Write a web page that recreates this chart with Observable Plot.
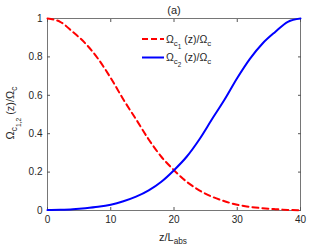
<!DOCTYPE html>
<html>
<head>
<meta charset="utf-8">
<script src="https://cdn.jsdelivr.net/npm/d3@7"></script>
<script src="https://cdn.jsdelivr.net/npm/@observablehq/plot@0.6"></script>
<style>
  html, body { margin: 0; padding: 0; background: #fff; }
  #chart { width: 332px; height: 249px; }
  svg { font-family: "Liberation Sans", Arial, sans-serif; }
</style>
</head>
<body>
<div id="chart"></div>
<script>
// ---- data ----
const zValues = [0, 2, 4, 6, 8, 10, 12, 14, 16, 18, 20, 22, 24, 26, 28, 30, 32, 34, 36, 38, 40];
const omegaC1 = [1.0, 0.983, 0.93, 0.87, 0.79, 0.69, 0.578, 0.475, 0.37, 0.28, 0.21, 0.15, 0.105, 0.072, 0.048, 0.03, 0.019, 0.012, 0.007, 0.003, 0.001];
const omegaC2 = [0.002, 0.004, 0.007, 0.012, 0.019, 0.03, 0.048, 0.072, 0.105, 0.15, 0.21, 0.28, 0.37, 0.475, 0.578, 0.69, 0.79, 0.87, 0.93, 0.983, 1.0];
const xTicks = [0, 10, 20, 30, 40];
const yTicks = [0, 0.2, 0.4, 0.6, 0.8, 1];
const yTickLabels = ["0", "0.2", "0.4", "0.6", "0.8", "1"];
const seriesColors = ["#ff0000", "#0000ff"];

const rows1 = zValues.map((z, i) => ({z, v: omegaC1[i]}));
const rows2 = zValues.map((z, i) => ({z, v: omegaC2[i]}));

const axisColor = "#262626";

const plot = Plot.plot({
  width: 332,
  height: 249,
  marginLeft: 47,
  marginRight: 32,
  marginTop: 18,
  marginBottom: 39,
  style: {fontFamily: "'Liberation Sans', Arial, sans-serif", fontSize: "10px", color: axisColor, background: "#fff"},
  x: {domain: [0, 40]},
  y: {domain: [0, 1]},
  marks: [
    Plot.frame({stroke: "#555", strokeWidth: 0.8}),
    Plot.axisX(xTicks, {anchor: "bottom", tickSize: -3, tickPadding: 8, label: null, stroke: "#555", fill: axisColor, fontSize: 10}),
    Plot.axisX(xTicks, {anchor: "top", tickSize: -3, tickFormat: () => "", label: null, stroke: "#555"}),
    Plot.axisY(yTicks, {anchor: "left", tickSize: -3, tickPadding: 8, label: null, tickFormat: (d) => yTickLabels[yTicks.indexOf(d)], stroke: "#555", fill: axisColor, fontSize: 10}),
    Plot.axisY(yTicks, {anchor: "right", tickSize: -3, tickFormat: () => "", label: null, stroke: "#555"}),
    Plot.line(rows1, {x: "z", y: "v", stroke: seriesColors[0], strokeWidth: 2, strokeDasharray: "6,4", curve: "monotone-x"}),
    Plot.line(rows2, {x: "z", y: "v", stroke: seriesColors[1], strokeWidth: 2, curve: "monotone-x"})
  ]
});
document.getElementById("chart").appendChild(plot);

// ---- text with subscripts, drawn into the same SVG ----
const svg = d3.select(plot);
function richText(g, x, y, parts, size, anchor) {
  const t = g.append("text").attr("x", x).attr("y", y)
    .attr("fill", axisColor).attr("font-size", size)
    .attr("text-anchor", anchor || "start");
  let level = 0;
  parts.forEach(([txt, lv]) => {
    const fs = lv === 0 ? size : lv === 1 ? size * 0.75 : size * 0.6;
    const shift = (lv - level) * size * 0.3;
    t.append("tspan").attr("dy", shift).attr("font-size", fs).text(txt);
    level = lv;
  });
  return t;
}
const layer = svg.append("g");

// title
richText(layer, 174, 14, [["(a)", 0]], 11, "middle");

// x label
richText(layer, 173, 241, [["z/L", 0], ["abs", 1]], 11, "middle");

// y label (rotated)
const yl = layer.append("g").attr("transform", "translate(14,113) rotate(-90)");
richText(yl, 0, 0, [["Ω", 0], ["c", 1], ["1,2", 2], [" (z)/Ω", 0], ["c", 1]], 11, "middle");

// legend
const legendNames = [
  [["Ω", 0], ["c", 1], ["1", 2], " (z)/Ω", ["c", 1]],
  [["Ω", 0], ["c", 1], ["2", 2], " (z)/Ω", ["c", 1]]
];
legendNames.forEach((parts, i) => {
  const y = 39 + i * 18.5;
  layer.append("line").attr("x1", 142).attr("x2", 164).attr("y1", y).attr("y2", y)
    .attr("stroke", seriesColors[i]).attr("stroke-width", 2)
    .attr("stroke-dasharray", i === 0 ? "6,3" : null);
  richText(layer, 166, y + 3.5, parts.map(p => Array.isArray(p) ? p : [p, 0]), 10.5, "start");
});
</script>
</body>
</html>
